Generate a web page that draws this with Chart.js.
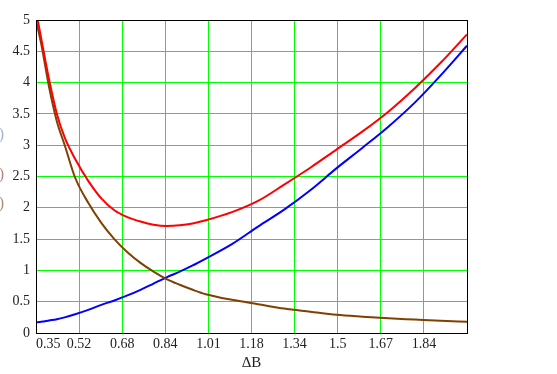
<!DOCTYPE html>
<html>
<head>
<meta charset="utf-8">
<script src="https://cdn.jsdelivr.net/npm/chart.js@4"></script>
<style>
  html, body { margin: 0; padding: 0; background: #fff; }
  canvas { display: block; }
</style>
</head>
<body>
<canvas id="curveChart" width="557" height="374"></canvas>
<script>
// values
const deltaB = [0.35, 0.37, 0.40, 0.43, 0.46, 0.50, 0.55, 0.60, 0.65, 0.70, 0.75, 0.80, 0.85,
  0.90, 0.95, 1.00, 1.10, 1.20, 1.30, 1.40, 1.50, 1.60, 1.70, 1.80, 1.90, 2.00];
const redValues = [5.15, 4.70, 4.05, 3.50, 3.12, 2.78, 2.43, 2.15, 1.96, 1.85, 1.78, 1.73, 1.71,
  1.72, 1.75, 1.80, 1.93, 2.11, 2.37, 2.64, 2.93, 3.22, 3.54, 3.91, 4.32, 4.77];
const blueValues = [0.17, 0.18, 0.20, 0.22, 0.25, 0.30, 0.37, 0.45, 0.52, 0.60, 0.69, 0.79, 0.89,
  0.98, 1.08, 1.19, 1.42, 1.70, 1.97, 2.28, 2.63, 2.96, 3.30, 3.68, 4.12, 4.59];
const brownValues = [5.00, 4.62, 3.93, 3.38, 3.00, 2.48, 2.08, 1.76, 1.50, 1.29, 1.12, 0.98, 0.86,
  0.77, 0.69, 0.62, 0.53, 0.46, 0.39, 0.34, 0.29, 0.26, 0.235, 0.215, 0.195, 0.18];
const xTickValues = [0.35, 0.515, 0.68, 0.845, 1.01, 1.175, 1.34, 1.505, 1.67, 1.835, 2.0];
const xTickLabels = ['0.35', '0.52', '0.68', '0.84', '1.01', '1.18', '1.34', '1.5', '1.67', '1.84', ''];
const yTickValues = [0, 0.5, 1, 1.5, 2, 2.5, 3, 3.5, 4, 4.5, 5];

const toPoints = (ys) => deltaB.map((x, i) => ({ x: x, y: ys[i] }));

const tickFont = { family: '"Liberation Serif", "Times New Roman", serif', size: 14 };

// frame round the plot and the clipped y-axis names at the left edge
const framePlugin = {
  id: 'frame',
  afterDraw(chart) {
    const { ctx, chartArea: a } = chart;
    ctx.save();
    ctx.strokeStyle = '#000';
    ctx.lineWidth = 1;
    ctx.strokeRect(Math.round(a.left) + 0.5, Math.round(a.top) + 0.5,
      Math.round(a.right - a.left), Math.round(a.bottom - a.top));
    ctx.font = '16px "Liberation Serif", serif';
    ctx.textAlign = 'right';
    ctx.textBaseline = 'middle';
    [['#a8b0d4', 135], ['#c08080', 175], ['#ae8a70', 204]].forEach(([c, y]) => {
      ctx.fillStyle = c;
      ctx.fillText('x)', 4, y);
    });
    ctx.restore();
  }
};

new Chart(document.getElementById('curveChart').getContext('2d'), {
  type: 'line',
  data: {
    datasets: [
      { data: toPoints(redValues), borderColor: '#ff0000', borderWidth: 2 },
      { data: toPoints(brownValues), borderColor: '#804000', borderWidth: 2 },
      { data: toPoints(blueValues), borderColor: '#0000ff', borderWidth: 2 }
    ]
  },
  options: {
    responsive: false,
    animation: false,
    layout: { padding: { left: 0, right: 90, top: 20, bottom: 0 } },
    elements: {
      point: { radius: 0 },
      line: { cubicInterpolationMode: 'monotone' }
    },
    plugins: {
      legend: { display: false },
      tooltip: { enabled: false }
    },
    scales: {
      x: {
        type: 'linear',
        min: 0.35,
        max: 2.0,
        afterBuildTicks: (scale) => { scale.ticks = xTickValues.map(v => ({ value: v })); },
        afterFit: (scale) => { scale.height = 41; },
        grid: { color: '#00ff00', lineWidth: 1, drawTicks: false },
        border: { color: '#000', width: 1 },
        ticks: {
          font: tickFont,
          color: '#222',
          padding: 3,
          align: 'inner',
          maxRotation: 0,
          autoSkip: false,
          callback: (v, i) => xTickLabels[i]
        },
        title: {
          display: true,
          text: 'ΔB',
          font: { family: '"Liberation Serif", serif', size: 15 },
          color: '#222',
          padding: { top: 0, bottom: 2 }
        }
      },
      y: {
        type: 'linear',
        min: 0,
        max: 5,
        afterBuildTicks: (scale) => { scale.ticks = yTickValues.map(v => ({ value: v })); },
        afterFit: (scale) => { scale.width = 36; },
        grid: { color: '#00ff00', lineWidth: 1, drawTicks: false },
        border: { color: '#000', width: 1 },
        ticks: {
          font: tickFont,
          color: '#222',
          padding: 6,
          autoSkip: false,
          callback: (v) => String(v)
        }
      }
    }
  },
  plugins: [framePlugin]
});
</script>
</body>
</html>
